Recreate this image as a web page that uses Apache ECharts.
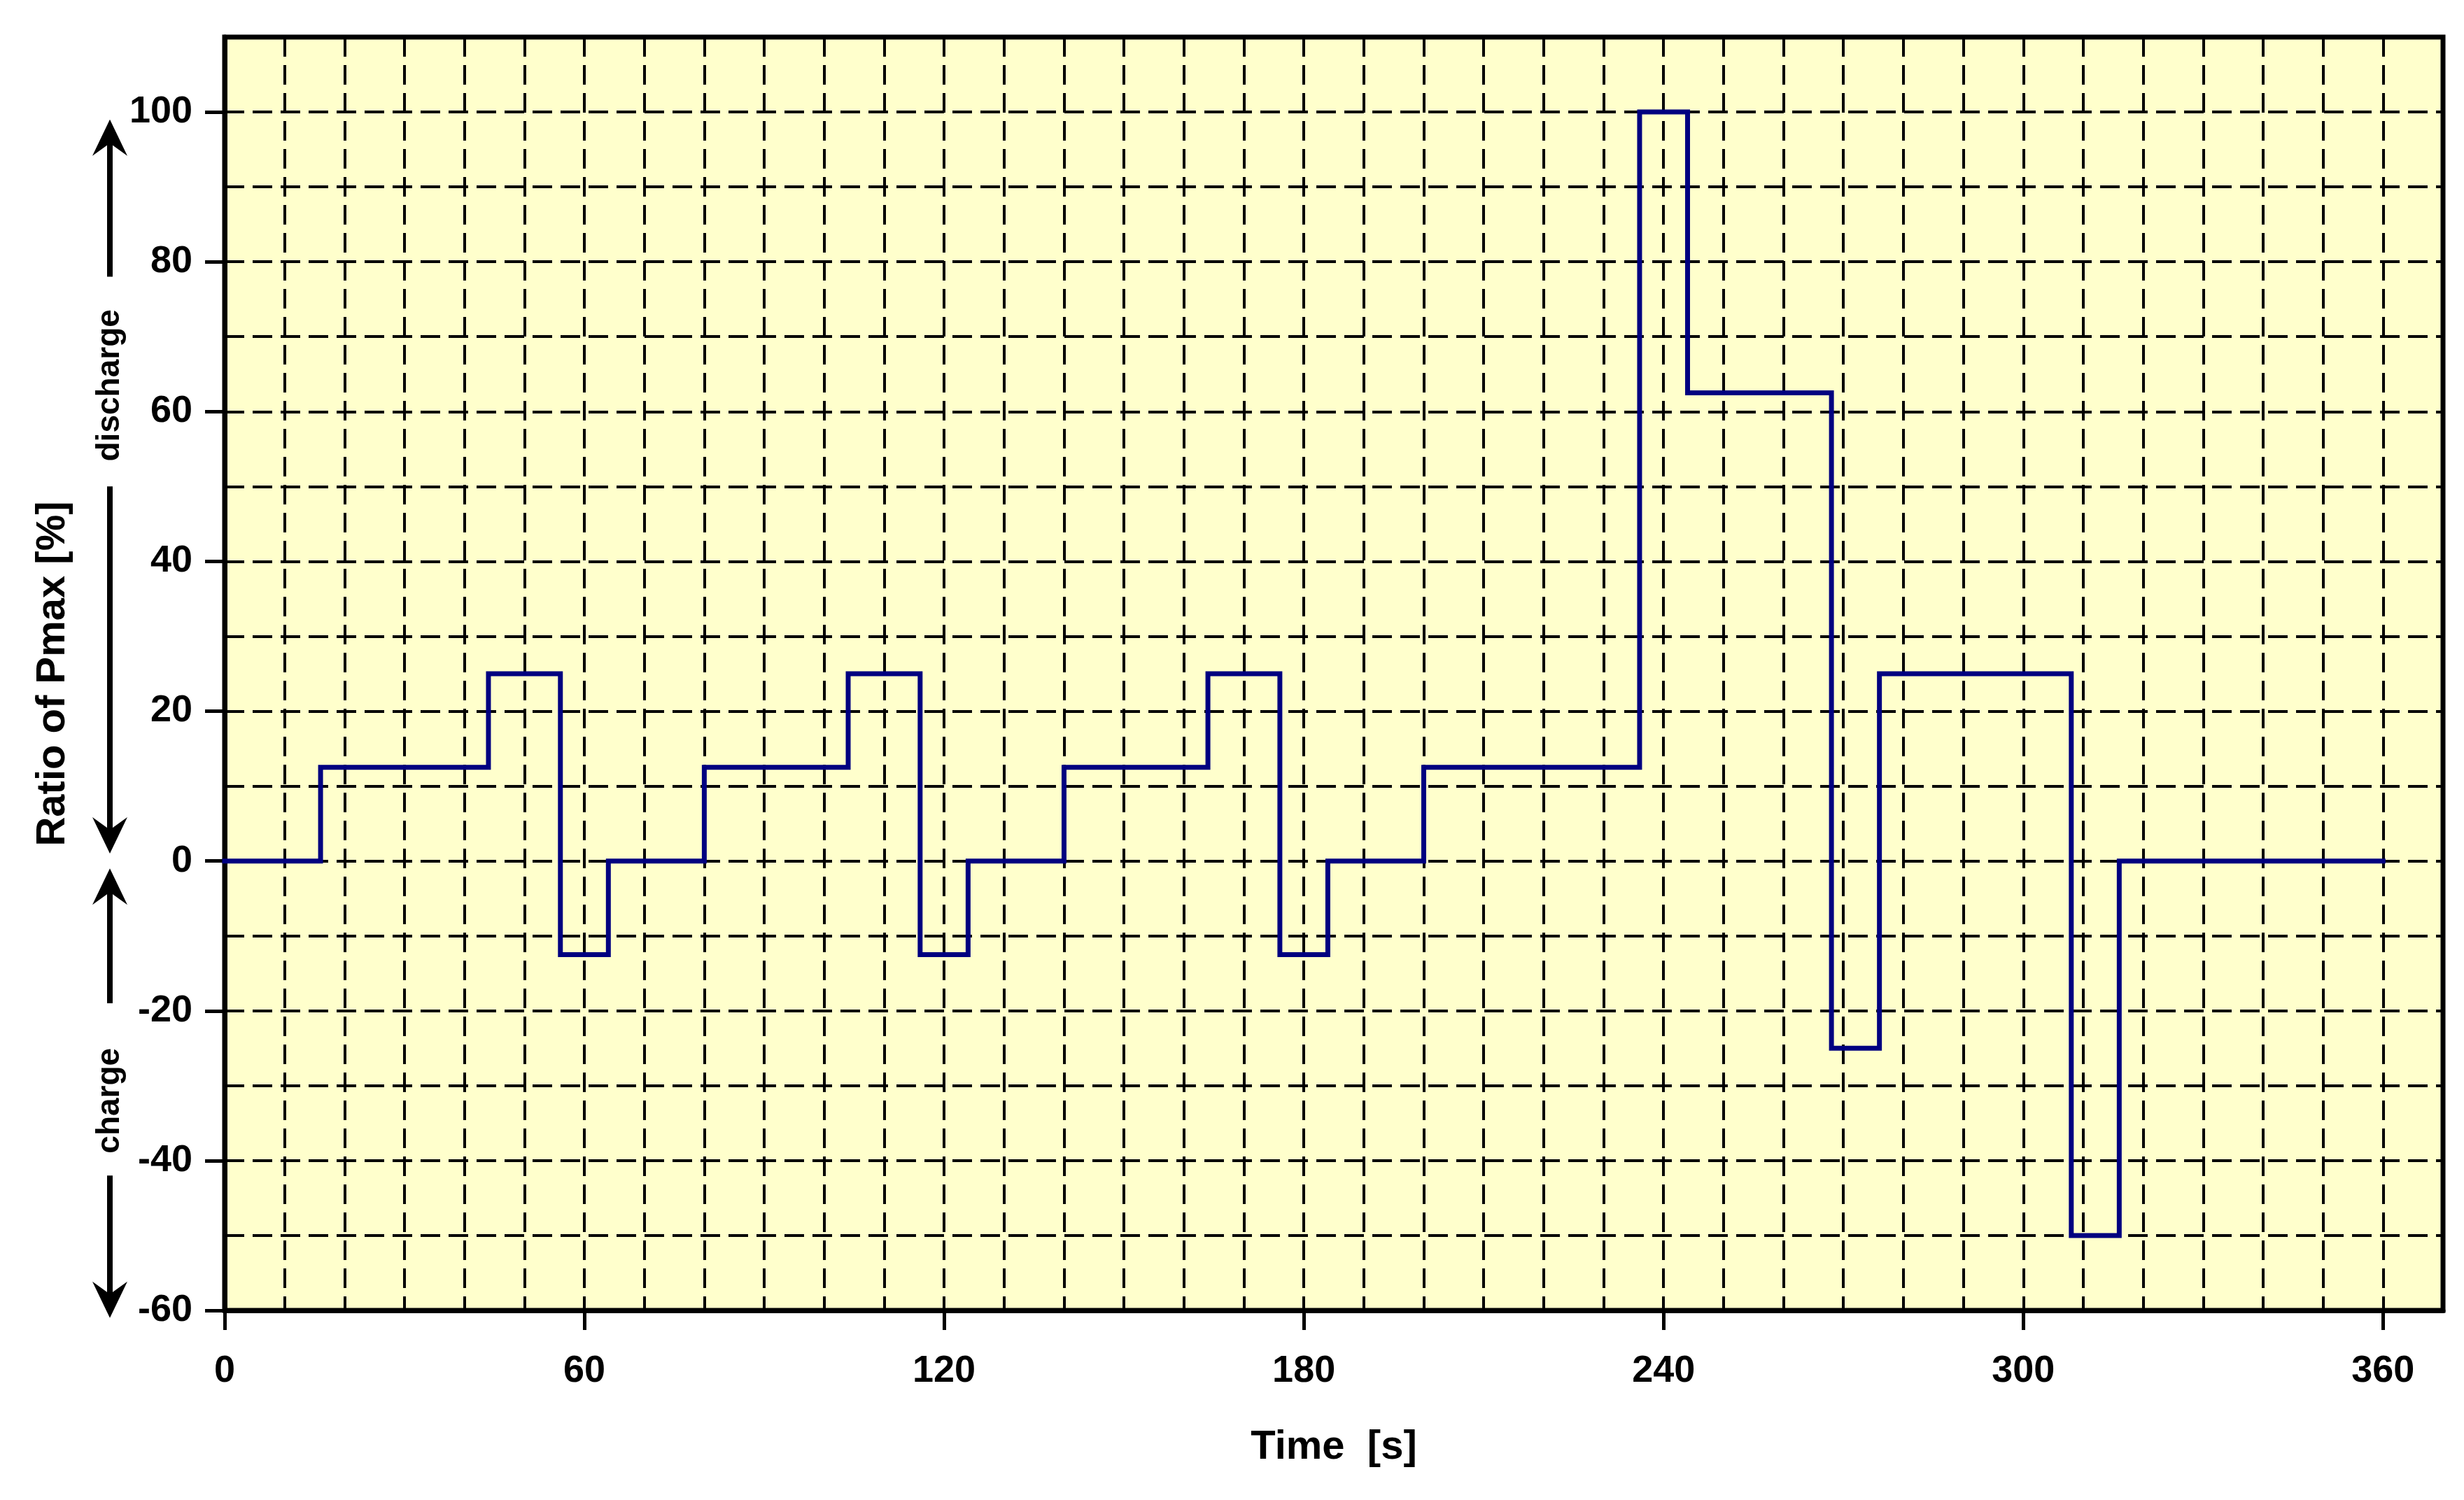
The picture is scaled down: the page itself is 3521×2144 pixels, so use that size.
<!DOCTYPE html>
<html>
<head>
<meta charset="utf-8">
<script src="https://cdn.jsdelivr.net/npm/echarts@6/dist/echarts.min.js"></script>
<style>
  html, body { margin: 0; padding: 0; background: #fff; }
  #chart { width: 3521px; height: 2144px; }
</style>
</head>
<body>
<div id="chart"></div>
<script>
// time [s] at which each level starts; level is held until the next time
var stepTimes = [0, 16, 44, 56, 64, 80, 104, 116, 124, 140, 164, 176, 184, 200, 236, 244, 268, 276, 308, 316, 360];
var stepLevels = [0, 12.5, 25, -12.5, 0, 12.5, 25, -12.5, 0, 12.5, 25, -12.5, 0, 12.5, 100, 62.5, -25, 25, -50, 0];
var xTicks = [0, 60, 120, 180, 240, 300, 360];
var yTicks = [-60, -40, -20, 0, 20, 40, 60, 80, 100];

var FONT = 'Liberation Sans, Arial, sans-serif';

// last time point repeats the final level so the step closes at 360 s
var stepData = stepTimes.map(function (t, i) {
  return [t, stepLevels[Math.min(i, stepLevels.length - 1)]];
});

var chartDom = document.getElementById('chart');
var myChart = echarts.init(chartDom);

var gridLine = { color: '#000', width: 4, type: [28, 12] };
var labelStyle = { color: '#000', fontSize: 54, fontWeight: 'bold', fontFamily: FONT };
var nameStyle = { color: '#000', fontSize: 58, fontWeight: 'bold', fontFamily: FONT };

var option = {
  backgroundColor: '#fff',
  animation: false,
  grid: {
    left: 321, right: 30, top: 53, bottom: 271,
    show: true, backgroundColor: '#FFFFCC', borderColor: '#000', borderWidth: 7
  },
  xAxis: [
    {
      // 10 s dashed grid
      type: 'value', min: 0, max: 370, interval: 10, position: 'bottom',
      axisLine: { show: true, onZero: false, lineStyle: { color: '#000', width: 7 } },
      axisTick: { show: false },
      axisLabel: { show: false },
      splitLine: { show: true, lineStyle: gridLine }
    },
    {
      // labelled ticks every 60 s
      type: 'value', min: 0, max: 370, position: 'bottom',
      axisLine: { show: false, onZero: false },
      axisTick: { show: true, customValues: xTicks, length: 28, lineStyle: { color: '#000', width: 5 } },
      axisLabel: { show: true, customValues: xTicks, margin: 60, ...labelStyle },
      splitLine: { show: false },
      name: 'Time  [s]', nameLocation: 'middle', nameGap: 167, nameTextStyle: nameStyle
    }
  ],
  yAxis: [
    {
      type: 'value', min: -60, max: 110, interval: 10, position: 'left',
      axisLine: { show: true, onZero: false, lineStyle: { color: '#000', width: 7 } },
      axisTick: { show: false },
      axisLabel: { show: false },
      splitLine: { show: true, lineStyle: gridLine }
    },
    {
      type: 'value', min: -60, max: 110, position: 'left',
      axisLine: { show: false, onZero: false },
      axisTick: { show: true, customValues: yTicks, length: 28, lineStyle: { color: '#000', width: 5 } },
      axisLabel: { show: true, customValues: yTicks, margin: 46, ...labelStyle },
      splitLine: { show: false },
      name: 'Ratio of Pmax [%]', nameLocation: 'middle', nameGap: 216, nameTextStyle: nameStyle
    }
  ],
  series: [
    {
      type: 'line',
      xAxisIndex: 0,
      yAxisIndex: 0,
      step: 'end',
      data: stepData,
      showSymbol: false,
      symbol: 'none',
      lineStyle: { color: '#000080', width: 7, join: 'miter', cap: 'square' }
    }
  ]
};
myChart.setOption(option);

// discharge / charge arrows left of the axis, anchored to y values
function yPx(v) { return myChart.convertToPixel({ yAxisIndex: 0 }, v); }
var ax = myChart.convertToPixel({ xAxisIndex: 0 }, 0) - 164;

function shaft(v1, v2) {
  return { type: 'line', shape: { x1: ax, y1: yPx(v1), x2: ax, y2: yPx(v2) },
    style: { stroke: '#000', lineWidth: 8 }, silent: true };
}
function head(v, dir) {
  // dir = -1 points up, 1 points down
  var y = yPx(v);
  return { type: 'polygon', silent: true,
    shape: { points: [[ax, y], [ax - 25, y - dir * 52], [ax, y - dir * 34], [ax + 25, y - dir * 52]] },
    style: { fill: '#000' } };
}
function sideText(str, v) {
  return { type: 'text', x: ax, y: yPx(v), rotation: Math.PI / 2, silent: true,
    style: { text: str, fill: '#000', font: 'bold 46px ' + FONT, align: 'center', verticalAlign: 'middle' } };
}

myChart.setOption({
  graphic: [
    shaft(78, 97), head(99, -1),
    sideText('discharge', 63.5),
    shaft(50, 3), head(1, 1),
    head(-1, -1), shaft(-3, -19),
    sideText('charge', -32),
    shaft(-42, -59), head(-61, 1)
  ]
});
</script>
</body>
</html>
